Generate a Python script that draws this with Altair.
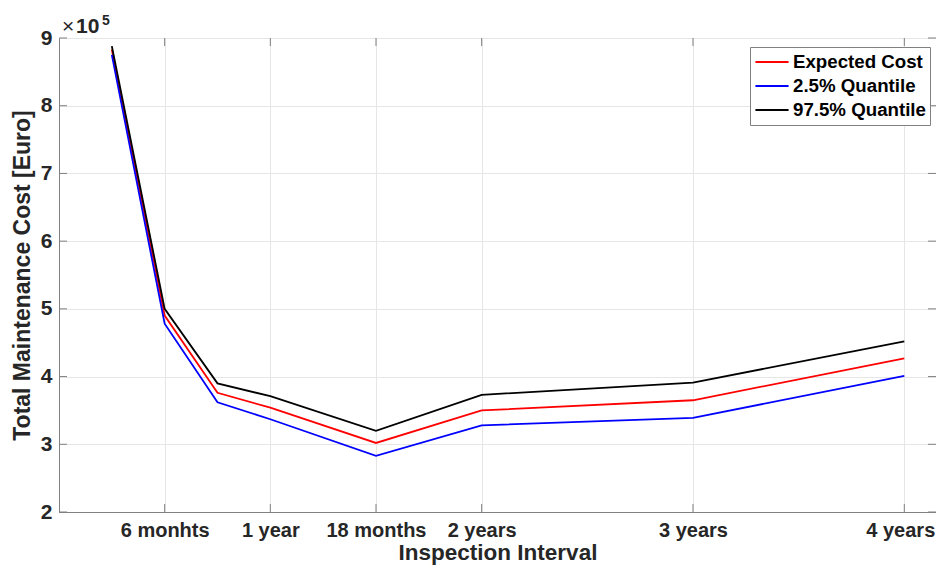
import altair as alt
import pandas as pd

months = [3, 6, 9, 12, 18, 24, 36, 48]
expected = [883000, 490000, 376000, 354000, 302000, 350000, 365000, 427000]
q025 = [875000, 478000, 362000, 337000, 283000, 328000, 339000, 401000]
q975 = [888000, 500000, 390000, 371000, 320000, 373000, 391000, 452000]
series_names = ["Expected Cost", "2.5% Quantile", "97.5% Quantile"]
series_colors = ["#ff0000", "#0000ff", "#000000"]
x_tick_values = [6, 12, 18, 24, 36, 48]
x_tick_labels = ["6 monhts", "1 year", "18 months", "2 years", "3 years", "4 years"]
y_tick_values = [200000, 300000, 400000, 500000, 600000, 700000, 800000, 900000]

W, H = 877, 474
FONT = "Liberation Sans"
rows = []
for name, vals in zip(series_names, [expected, q025, q975]):
    for i, (m, v) in enumerate(zip(months, vals)):
        rows.append({"months": m, "cost": v, "series": name, "idx": i})
df = pd.DataFrame(rows)

label_expr = ""
for v, l in zip(x_tick_values, x_tick_labels):
    label_expr += f"datum.value == {v} ? '{l}' : "
label_expr += "''"

xscale = alt.Scale(domain=[0, 49.8], nice=False, zero=False)
yscale = alt.Scale(domain=[200000, 900000], nice=False, zero=False)

lines = alt.Chart(df).mark_line(strokeWidth=1.8).encode(
    x=alt.X("months:Q", scale=xscale,
            axis=alt.Axis(values=x_tick_values, labelExpr=label_expr, title="Inspection Interval",
                          labelFont=FONT, labelFontSize=20, labelFontWeight="bold",
                          labelColor="#262626", labelPadding=8, ticks=False,
                          labelOffset={"condition": {"test": "datum.value == 48", "value": -4},
                                       "value": 0},
                          titleFont=FONT, titleFontSize=22.5, titleFontWeight="bold",
                          titleColor="#262626", titlePadding=1, gridColor="#e6e6e6",
                          domainColor="#808080", labelOverlap=False, labelFlush=False)),
    y=alt.Y("cost:Q", scale=yscale,
            axis=alt.Axis(values=y_tick_values, labelExpr="datum.value / 100000",
                          title="Total Maintenance Cost [Euro]",
                          labelFont=FONT, labelFontSize=21, labelFontWeight="bold",
                          labelColor="#262626", labelPadding=7, ticks=False,
                          titleFont=FONT, titleFontSize=23, titleFontWeight="bold",
                          titleColor="#262626", titlePadding=6, gridColor="#e6e6e6",
                          domainColor="#808080")),
    color=alt.Color("series:N", scale=alt.Scale(domain=series_names, range=series_colors),
                    sort=series_names,
                    legend=alt.Legend(title=None, orient="none", legendX=691, legendY=9,
                                      symbolType="stroke", symbolSize=1100, symbolStrokeWidth=2,
                                      labelFont=FONT, labelFontSize=18.7,
                                      labelFontWeight="bold", labelColor="#000000",
                                      strokeColor="#808080", fillColor="#ffffff", padding=4,
                                      rowPadding=2, labelOffset=3, clipHeight=22)),
    order="idx:Q",
)

xt = pd.DataFrame({"v": x_tick_values})
yt = pd.DataFrame({"v": y_tick_values})
tick_color = "#808080"
xb = alt.Chart(xt).mark_rule(color=tick_color, strokeWidth=1).encode(
    x=alt.X("v:Q", scale=xscale), y=alt.value(H), y2=alt.value(H - 8))
xtop = alt.Chart(xt).mark_rule(color=tick_color, strokeWidth=1).encode(
    x=alt.X("v:Q", scale=xscale), y=alt.value(0), y2=alt.value(8))
yl = alt.Chart(yt).mark_rule(color=tick_color, strokeWidth=1).encode(
    y=alt.Y("v:Q", scale=yscale), x=alt.value(0), x2=alt.value(8))
yr = alt.Chart(yt).mark_rule(color=tick_color, strokeWidth=1).encode(
    y=alt.Y("v:Q", scale=yscale), x=alt.value(W), x2=alt.value(W - 8))

times_df = pd.DataFrame({"t": ["×"]})
ten_df = pd.DataFrame({"t": ["10"]})
exp_df = pd.DataFrame({"t": ["5"]})
times_text = alt.Chart(times_df).mark_text(align="left", baseline="alphabetic", fontSize=21,
                                           font=FONT, color="#262626").encode(
    x=alt.value(3), y=alt.value(-5), text="t:N")
ten_text = alt.Chart(ten_df).mark_text(align="left", baseline="alphabetic", fontSize=21,
                                       font=FONT, fontWeight="bold", color="#262626").encode(
    x=alt.value(17), y=alt.value(-5), text="t:N")
exp_text = alt.Chart(exp_df).mark_text(align="left", baseline="alphabetic", fontSize=14,
                                       font=FONT, fontWeight="bold", color="#262626").encode(
    x=alt.value(43), y=alt.value(-13), text="t:N")

chart = alt.layer(xb, xtop, yl, yr, lines, times_text, ten_text, exp_text).properties(
    width=W, height=H,
    autosize=alt.AutoSizeParams(type="none"),
    padding={"left": 51, "top": 30, "right": 0, "bottom": 54},
).configure_view(stroke="#808080", strokeWidth=1).configure_axis(grid=True)

chart.save("out.html", embed_options={"renderer": "svg", "actions": False})
